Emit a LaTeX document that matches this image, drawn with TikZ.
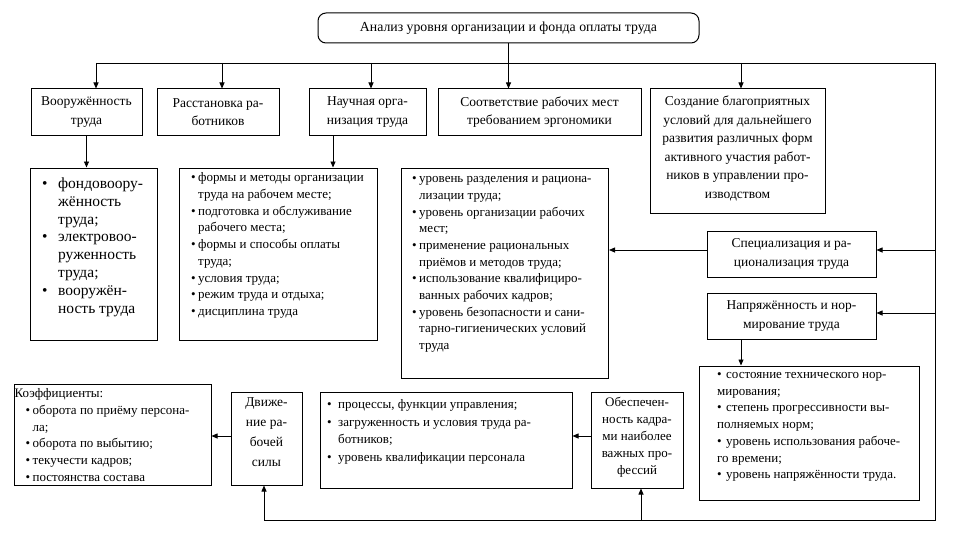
\documentclass[tikz,border=0pt]{standalone}
\usepackage{fontspec}
\setmainfont{Liberation Serif}
\usetikzlibrary{arrows.meta}
\newcommand\bl[1]{\makebox[#1][l]{•}}
\begin{document}
\begin{tikzpicture}[x=1pt,y=-1pt,
  box/.style={draw, line width=1pt, inner sep=0pt, rectangle},
  txt/.style={inner sep=0pt, font=\fontsize{13.5}{18.5}\selectfont, align=center},
  ltxt/.style={inner sep=0pt, font=\fontsize{13}{16.7}\selectfont, align=left, anchor=west},
  arr/.style={-{Triangle[length=6pt,width=5pt]}, line width=0.8pt},
  ln/.style={line width=0.8pt}]
\useasboundingbox[fill=white] (0,0) rectangle (954,535);

% boxes
\node[box, rounded corners=8pt, minimum width=381pt, minimum height=30pt] (top) at (508.5,28) {};
\node[box, minimum width=111pt, minimum height=46pt] (v1) at (86.5,112) {};
\node[box, minimum width=122pt, minimum height=46pt] (v2) at (218,112) {};
\node[box, minimum width=117pt, minimum height=46pt] (v3) at (367.5,112) {};
\node[box, minimum width=203pt, minimum height=46pt] (v4) at (539.5,112) {};
\node[box, minimum width=175pt, minimum height=124pt] (v5) at (737.5,151) {};
\node[box, minimum width=127pt, minimum height=172pt] (b1) at (93.5,254) {};
\node[box, minimum width=198pt, minimum height=172pt] (b3) at (278,254) {};
\node[box, minimum width=207pt, minimum height=210pt] (bm) at (505,273.5) {};
\node[box, minimum width=169pt, minimum height=46pt] (sp) at (791.5,254.5) {};
\node[box, minimum width=169pt, minimum height=46pt] (np) at (791.5,316.5) {};
\node[box, minimum width=220pt, minimum height=134pt] (nb) at (809,433) {};
\node[box, minimum width=197pt, minimum height=101pt] (kf) at (112.5,434.5) {};
\node[box, minimum width=71pt, minimum height=93pt] (dv) at (266.5,438.5) {};
\node[box, minimum width=252pt, minimum height=96pt] (pr) at (446,440) {};
\node[box, minimum width=92pt, minimum height=96pt] (ob) at (637,440) {};

% texts
\node[txt, font=\fontsize{13.8}{18.5}\selectfont] (topt) at (508.5,28) {Анализ уровня организации и фонда оплаты труда};
\node[txt] (v1t) at (86.5,112) {Вооружённость\\труда};
\node[txt] (v2t) at (218,112) {Расстановка ра-\\ботников};
\node[txt] (v3t) at (367.5,112) {Научная орга-\\низация труда};
\node[txt] (v4t) at (539.5,112) {Соответствие рабочих мест\\требованием эргономики};
\node[txt] (v5t) at (737.5,148.5) {Создание благоприятных\\условий для дальнейшего\\развития различных форм\\активного участия работ-\\ников в управлении про-\\изводством};
\node[txt] (spt) at (791.5,254) {Специализация и ра-\\ционализация труда};
\node[txt] (npt) at (791.5,316) {Напряжённость и нор-\\мирование труда};
\node[txt, font=\fontsize{13.5}{20}\selectfont] (dvt) at (266.5,432.5) {Движе-\\ние ра-\\бочей\\силы};
\node[txt, font=\fontsize{13}{17}\selectfont] (obt) at (637,437) {Обеспечен-\\ность кадра-\\ми наиболее\\важных про-\\фессий};

\node[ltxt, font=\fontsize{15.5}{17.8}\selectfont] (b1t) at (42,247) {\bl{16pt}фондовоору-\\\hspace*{16pt}жённость\\\hspace*{16pt}труда;\\\bl{16pt}электровоо-\\\hspace*{16pt}руженность\\\hspace*{16pt}труда;\\\bl{16pt}вооружён-\\\hspace*{16pt}ность труда};

\node[ltxt] (b3t) at (191,245.5) {\bl{7pt}формы и методы организации\\\hspace*{7pt}труда на рабочем месте;\\\bl{7pt}подготовка и обслуживание\\\hspace*{7pt}рабочего места;\\\bl{7pt}формы и способы оплаты\\\hspace*{7pt}труда;\\\bl{7pt}условия труда;\\\bl{7pt}режим труда и отдыха;\\\bl{7pt}дисциплина труда};

\node[ltxt] (bmt) at (412,264.5) {\bl{7pt}уровень разделения и рациона-\\\hspace*{7pt}лизации труда;\\\bl{7pt}уровень организации рабочих\\\hspace*{7pt}мест;\\\bl{7pt}применение рациональных\\\hspace*{7pt}приёмов и методов труда;\\\bl{7pt}использование квалифициро-\\\hspace*{7pt}ванных рабочих кадров;\\\bl{7pt}уровень безопасности и сани-\\\hspace*{7pt}тарно-гигиенических условий\\\hspace*{7pt}труда};

\node[ltxt] (nbt) at (717,427) {\bl{9pt}состояние технического нор-\\мирования;\\\bl{9pt}степень прогрессивности вы-\\полняемых норм;\\\bl{9pt}уровень использования рабоче-\\го времени;\\\bl{9pt}уровень напряжённости труда.};

\node[ltxt] (kft) at (14.5,435) {Коэффициенты:\\\hspace*{11pt}\bl{7pt}оборота по приёму персона-\\\hspace*{18pt}ла;\\\hspace*{11pt}\bl{7pt}оборота по выбытию;\\\hspace*{11pt}\bl{7pt}текучести кадров;\\\hspace*{11pt}\bl{7pt}постоянства состава};

\node[ltxt, font=\fontsize{13}{17.5}\selectfont] (prt) at (327,432) {\bl{11pt}процессы, функции управления;\\\bl{11pt}загруженность и условия труда ра-\\\hspace*{11pt}ботников;\\\bl{11pt}уровень квалификации персонала};

% connectors
\coordinate (hl) at (96,63);
\coordinate (h2) at (222,63);
\coordinate (h3) at (371,63);
\coordinate (h5) at (741,63);
\coordinate (hr) at (935,63);
\coordinate (br) at (935,520);
\coordinate (bb) at (264,520);
\coordinate (b2) at (641,520);
\coordinate (r1) at (935,250);
\coordinate (r2) at (935,313);
\coordinate (k1) at (231,436);

\draw[ln] (hl) -- (hr) -- (br) -- (bb);
\draw[arr] (hl) -- (hl |- v1.north);
\draw[arr] (h2) -- (h2 |- v2.north);
\draw[arr] (h3) -- (h3 |- v3.north);
\draw[arr] (h5) -- (h5 |- v5.north);
\draw[arr] (top.south) -- (top.south |- v4.north);
\draw[arr] (v1.south) -- (v1.south |- b1.north);
\draw[arr] ([xshift=-34.5pt]v3.south) -- ([xshift=-34.5pt]v3.south |- b3.north);
\draw[arr] (r1) -- (r1 -| sp.east);
\draw[arr] (r2) -- (r2 -| np.east);
\draw[arr] (r1 -| sp.west) -- (r1 -| bm.east);
\draw[arr] ([xshift=-50.5pt]np.south) -- ([xshift=-50.5pt]np.south |- nb.north);
\draw[arr] (bb) -- (bb |- dv.south);
\draw[arr] (b2) -- (b2 |- ob.south);
\draw[arr] (k1 -| dv.west) -- (k1 -| kf.east);
\draw[arr] (k1 -| ob.west) -- (k1 -| pr.east);
\end{tikzpicture}
\end{document}
